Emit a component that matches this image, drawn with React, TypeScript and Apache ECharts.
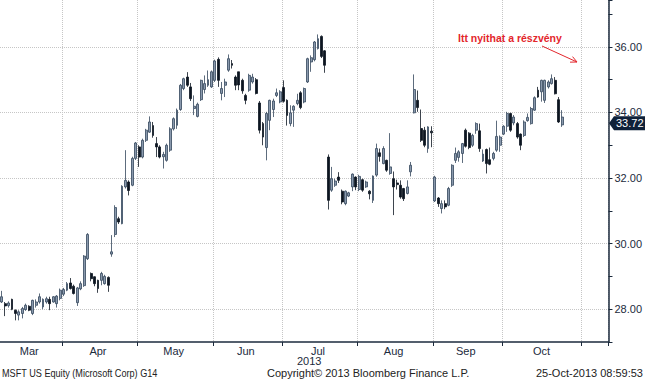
import React, { useEffect, useRef } from "react";
import * as echarts from "echarts";

// Trading days shown on the category axis (MM-DD, 2013)
const DATES: string[] = [
  "03-05","03-06","03-07","03-08","03-11","03-12","03-13","03-14","03-15","03-18","03-19","03-20","03-21","03-22","03-25","03-26","03-27","03-28",
  "04-01","04-02","04-03","04-04","04-05","04-08","04-09","04-10","04-11","04-12","04-15","04-16","04-17","04-18","04-19","04-22","04-23","04-24","04-25","04-26","04-29","04-30",
  "05-01","05-02","05-03","05-06","05-07","05-08","05-09","05-10","05-13","05-14","05-15","05-16","05-17","05-20","05-21","05-22","05-23","05-24","05-28","05-29","05-30","05-31",
  "06-03","06-04","06-05","06-06","06-07","06-10","06-11","06-12","06-13","06-14","06-17","06-18","06-19","06-20","06-21","06-24","06-25","06-26","06-27","06-28",
  "07-01","07-02","07-03","07-05","07-08","07-09","07-10","07-11","07-12","07-15","07-16","07-17","07-18","07-19","07-22","07-23","07-24","07-25","07-26","07-29","07-30","07-31",
  "08-01","08-02","08-05","08-06","08-07","08-08","08-09","08-12","08-13","08-14","08-15","08-16","08-19","08-20","08-21","08-22","08-23","08-26","08-27","08-28","08-29","08-30",
  "09-03","09-04","09-05","09-06","09-09","09-10","09-11","09-12","09-13","09-16","09-17","09-18","09-19","09-20","09-23","09-24","09-25","09-26","09-27","09-30",
  "10-01","10-02","10-03","10-04","10-07","10-08","10-09","10-10","10-11","10-14","10-15","10-16","10-17","10-18","10-21","10-22","10-23","10-24","10-25","10-28","10-29","10-30","10-31",
  "11-01","11-04","11-05","11-06","11-07","11-08","11-11","11-12",
];

// [open, close, low, high]
const MARCH: number[][] = [
  [28.22,28.38,28.19,28.56],[28.17,28.10,27.79,28.22],[28.11,28.19,28.05,28.24],[28.30,28.00,27.97,28.32],
  [27.97,27.87,27.66,27.99],[27.82,27.92,27.66,27.97],[27.87,28.02,27.72,28.07],[27.99,28.12,27.95,28.17],
  [28.09,27.97,27.94,28.12],[27.87,28.27,27.82,28.29],[28.12,28.22,28.05,28.30],[28.22,28.38,28.17,28.48],
  [28.07,28.30,28.00,28.33],[28.22,28.32,28.17,28.38],[28.30,28.17,27.97,28.38],[28.22,28.38,28.20,28.40],
  [28.17,28.40,28.05,28.43],[28.33,28.58,28.27,28.63],
];
const APRIL: number[][] = [
  [28.46,28.60,28.40,28.65],[28.58,28.78,28.55,28.83],[28.80,28.63,28.60,28.95],[28.70,28.48,28.45,28.75],
  [28.20,28.65,28.10,28.68],[28.62,28.78,28.58,28.85],[28.72,29.62,28.68,29.65],[29.54,30.28,29.50,30.32],
  [29.09,28.93,28.85,29.12],[28.99,28.78,28.70,29.00],[28.88,28.63,28.50,28.90],[28.88,29.09,28.73,29.14],
  [28.78,29.00,28.75,29.05],[28.97,28.73,28.53,29.00],[29.68,29.75,29.60,30.26],[30.28,31.10,30.20,31.17],
  [30.76,30.66,30.60,30.82],[30.61,31.75,30.59,31.78],[31.73,31.93,31.68,32.85],[31.88,31.62,31.47,31.93],
  [31.78,32.60,31.75,32.65],[32.60,33.07,32.55,33.10],
];
const MAY: number[][] = [
  [32.95,32.64,32.34,33.00],[32.64,33.15,32.60,33.20],[33.15,33.46,33.10,33.50],[33.40,33.71,33.38,33.88],
  [33.60,33.30,33.23,33.71],[33.05,32.95,32.64,33.25],[32.95,32.64,32.60,33.00],[32.65,32.72,32.29,32.80],
  [32.54,33.00,32.50,33.05],[32.85,33.50,32.80,33.55],[33.50,33.81,33.45,33.85],[33.61,34.07,33.50,34.12],
  [34.09,34.83,34.05,34.87],[34.73,35.03,34.68,35.06],[35.08,34.83,34.78,35.23],[34.78,34.42,34.35,34.90],
  [34.12,34.19,33.92,34.52],[33.88,34.25,33.85,34.30],[34.39,34.98,34.35,35.00],[34.70,34.88,34.58,35.13],
  [34.83,35.00,34.78,35.28],[34.78,35.24,34.75,35.28],
];
const JUNE: number[][] = [
  [34.98,35.57,34.93,35.61],[35.62,34.98,34.78,35.68],[34.58,34.73,34.37,34.93],[34.83,34.93,34.47,35.03],
  [35.29,35.64,35.24,35.77],[35.49,35.44,35.34,35.60],[35.08,34.83,34.68,35.13],[35.24,34.84,34.68,35.24],
  [34.98,34.66,34.57,35.03],[34.52,34.37,34.25,34.57],[34.68,35.13,34.63,35.18],[34.93,35.08,34.88,35.18],
  [35.00,34.58,34.55,35.05],[34.29,33.46,33.36,34.35],[33.66,33.25,33.00,33.71],[32.93,33.97,32.54,34.02],
  [33.76,34.37,33.46,34.39],[34.09,34.35,33.86,34.42],[34.52,34.60,34.47,34.73],[34.32,34.63,34.28,34.68],
];
const JULY: number[][] = [
  [34.76,34.34,34.30,34.98],[34.37,33.91,33.60,34.40],[33.66,33.99,33.58,34.22],[34.07,34.19,33.56,34.22],
  [34.27,34.37,34.22,34.57],[34.60,34.15,34.10,34.65],[34.32,34.73,34.28,34.76],[34.93,35.64,34.90,35.67],
  [35.54,35.67,35.24,35.74],[35.61,36.15,35.56,36.18],[35.95,36.25,35.92,36.38],[36.32,35.71,35.66,36.35],
  [35.88,35.44,35.21,35.90],[32.64,31.32,31.04,32.72],[31.63,31.98,31.58,32.34],[31.78,31.91,31.73,31.98],
  [32.03,31.93,31.85,32.18],[31.60,31.27,31.20,31.65],[31.22,31.60,31.17,31.62],[31.45,31.55,31.42,31.58],
  [31.73,32.12,31.60,32.14],[32.03,31.73,31.63,32.05],
];
const AUGUST: number[][] = [
  [31.65,32.05,31.60,32.10],[31.95,31.63,31.58,31.98],[31.73,31.88,31.70,31.92],[31.60,31.52,31.35,31.63],
  [31.32,32.06,31.24,32.08],[32.09,32.90,32.04,33.05],[32.77,32.66,32.50,32.90],[32.44,32.90,32.42,32.97],
  [32.54,32.24,32.19,32.56],[32.14,32.34,32.10,33.37],[31.98,31.73,30.87,32.20],[31.85,31.80,31.65,31.95],
  [31.78,31.42,31.37,31.93],[31.68,31.37,31.30,31.70],[31.53,31.73,31.50,31.93],[32.19,32.39,32.05,32.49],
  [33.99,34.70,33.97,35.16],[34.37,34.15,34.02,34.67],[33.51,33.15,33.10,34.09],[33.46,33.00,32.94,33.56],
  [32.90,33.56,32.77,33.58],[33.43,33.38,32.94,33.58],
];
const SEPTEMBER: number[][] = [
  [31.30,32.03,31.27,32.07],[31.39,31.22,31.12,31.42],[31.07,31.22,30.92,31.32],[31.22,31.12,31.05,31.32],
  [31.17,31.68,31.14,31.73],[31.78,32.39,31.73,32.42],[32.54,32.75,32.46,32.93],[32.63,32.80,32.50,32.85],
  [32.75,33.05,32.46,33.07],[33.46,32.97,32.93,33.51],[33.37,32.93,32.88,33.40],[33.00,33.30,32.95,33.35],
  [33.46,33.66,33.35,33.70],[33.44,32.90,32.80,33.66],[32.52,32.73,32.49,32.87],[32.87,32.44,32.14,32.90],
  [32.56,32.42,32.39,32.93],[32.60,32.75,32.54,32.80],[32.85,33.27,32.80,33.75],[33.00,33.25,32.80,33.30],
];
const OCTOBER: number[][] = [
  [33.34,33.58,33.31,33.61],[33.58,33.97,33.41,34.02],[33.97,33.46,33.41,33.99],[33.68,33.86,33.61,33.92],
  [33.66,33.25,33.20,33.71],[33.34,33.00,32.85,33.36],[33.30,33.71,33.25,33.76],[33.75,33.85,33.72,33.97],
  [33.66,34.12,33.63,34.17],[34.07,34.45,34.05,34.49],[34.68,34.47,34.45,34.78],[34.63,34.98,34.33,35.00],
  [34.37,34.98,34.29,35.00],[34.78,34.93,34.73,34.98],[34.88,35.03,34.85,35.16],[34.98,34.57,34.55,35.08],
  [34.39,33.71,33.68,34.47],[33.62,33.86,33.56,34.07],
];

const MONTHS = [
  { key: "03", label: "Mar" }, { key: "04", label: "Apr" }, { key: "05", label: "May" },
  { key: "06", label: "Jun" }, { key: "07", label: "Jul" }, { key: "08", label: "Aug" },
  { key: "09", label: "Sep" }, { key: "10", label: "Oct" },
];
const Y_MIN = 27;
const Y_MAX = 37.43;
const LAST_PRICE = 33.72;
const ANNOTATION = "Itt nyithat a részvény";
const FOOTER_LEFT = "MSFT US Equity (Microsoft Corp) G14";
const FOOTER_MID = "Copyright© 2013 Bloomberg Finance L.P.";
const FOOTER_RIGHT = "25-Oct-2013 08:59:53";
const YEAR = "2013";

const NAVY = "#1b2a3c";
const GRID = "#c6c6c6";
const UP_FILL = "#8a99ad";
const UP_BORDER = "#34465c";
const DOWN = "#0c1521";
const RED = "#e3262c";
const FONT = "'Liberation Sans', Arial, sans-serif";

export default function App() {
  const ref = useRef<HTMLDivElement>(null);
  useEffect(() => {
    document.body.style.margin = "0";
    const chart = echarts.init(ref.current!, null, { renderer: "svg" });
    const candles = [...MARCH, ...APRIL, ...MAY, ...JUNE, ...JULY, ...AUGUST, ...SEPTEMBER, ...OCTOBER];
    const monthOf = (d: string) => d.slice(0, 2);
    const monthStarts = new Set<number>();
    DATES.forEach((d, i) => {
      if (i > 0 && monthOf(d) !== monthOf(DATES[i - 1])) monthStarts.add(i);
    });
    const labelAt = new Map<number, string>();
    MONTHS.forEach((m) => {
      const idx = DATES.map((d, i) => (monthOf(d) === m.key ? i : -1)).filter((i) => i >= 0);
      labelAt.set(Math.floor((idx[0] + idx[idx.length - 1]) / 2), m.label);
    });

    chart.setOption({
      animation: false,
      grid: { left: -1.2, right: 33, top: 0, bottom: 38, containLabel: false },
      xAxis: {
        type: "category",
        data: DATES,
        boundaryGap: true,
        axisLine: { show: true, lineStyle: { color: NAVY, width: 1.5 } },
        axisTick: {
          show: true,
          interval: (i: number) => monthStarts.has(i),
          length: 4,
          lineStyle: { color: NAVY, width: 1 },
        },
        axisLabel: {
          interval: (i: number) => labelAt.has(i),
          formatter: (_v: string, i: number) => labelAt.get(i) ?? "",
          color: NAVY,
          fontSize: 11,
          fontFamily: FONT,
          margin: 3,
        },
        splitLine: {
          show: true,
          interval: (i: number) => monthStarts.has(i),
          lineStyle: { color: GRID, type: "dotted", width: 1 },
        },
      },
      yAxis: {
        type: "value",
        position: "right",
        min: Y_MIN,
        max: Y_MAX,
        interval: 1,
        axisLine: { show: true, lineStyle: { color: NAVY, width: 1.5 } },
        axisTick: { show: true, length: 4, lineStyle: { color: NAVY } },
        axisLabel: {
          formatter: (v: number) => (Math.abs(v % 2) < 1e-9 ? v.toFixed(2) : ""),
          color: NAVY,
          fontSize: 11,
          fontFamily: FONT,
          margin: 6,
        },
        splitLine: {
          show: true,
          showMinLine: false,
          showMaxLine: false,
          lineStyle: { color: [GRID, "rgba(0,0,0,0)"], type: "dotted", width: 1 },
        },
      },
      series: [
        {
          type: "candlestick",
          data: candles,
          barWidth: 2.4,
          itemStyle: {
            color: UP_FILL,
            color0: DOWN,
            borderColor: UP_BORDER,
            borderColor0: DOWN,
            borderWidth: 0.8,
          },
        },
      ],
    });

    const y = chart.convertToPixel({ yAxisIndex: 0 }, LAST_PRICE) as number;
    const xr = chart.convertToPixel({ xAxisIndex: 0 }, DATES[DATES.length - 1]) as number;
    const axisX = Math.round(xr + 2);
    const top = y - 5.5, bot = y + 8.5, mid = (top + bot) / 2;
    // arrow geometry for annotation
    const ax0 = 542, ay0 = 46, ax1 = 577, ay1 = 62;
    const ang = Math.atan2(ay1 - ay0, ax1 - ax0);
    const hl = 7, ha = 0.45;
    const head = [
      [ax1 - hl * Math.cos(ang - ha), ay1 - hl * Math.sin(ang - ha)],
      [ax1, ay1],
      [ax1 - hl * Math.cos(ang + ha), ay1 - hl * Math.sin(ang + ha)],
    ];
    chart.setOption({
      graphic: {
        elements: [
          {
            type: "polygon",
            shape: { points: [[axisX, mid], [axisX + 5, top], [645, top], [645, bot], [axisX + 5, bot]] },
            style: { fill: "#0f2139" },
            z: 10,
          },
          {
            type: "text",
            x: axisX + 7,
            y: mid,
            style: { text: LAST_PRICE.toFixed(2), fill: "#ffffff", fontSize: 11, fontFamily: FONT, verticalAlign: "middle" },
            z: 11,
          },
          {
            type: "text",
            x: 458,
            y: 38,
            style: { text: ANNOTATION, fill: RED, fontSize: 10.5, fontWeight: "bold", fontFamily: FONT, verticalAlign: "middle" },
          },
          { type: "line", shape: { x1: ax0, y1: ay0, x2: ax1, y2: ay1 }, style: { stroke: RED, lineWidth: 1 } },
          { type: "polyline", shape: { points: head }, style: { stroke: RED, lineWidth: 1, fill: null } },
          {
            type: "text",
            x: 297,
            y: 361,
            style: { text: YEAR, fill: NAVY, fontSize: 11, fontFamily: FONT, verticalAlign: "middle" },
          },
          {
            type: "text",
            x: 2,
            y: 373,
            scaleX: 0.83,
            style: { text: FOOTER_LEFT, fill: "#222222", fontSize: 11, fontFamily: FONT, verticalAlign: "middle" },
          },
          {
            type: "text",
            x: 267,
            y: 373,
            style: { text: FOOTER_MID, fill: "#222222", fontSize: 11, fontFamily: FONT, verticalAlign: "middle" },
          },
          {
            type: "text",
            x: 643,
            y: 373,
            style: { text: FOOTER_RIGHT, fill: "#222222", fontSize: 11, fontFamily: FONT, verticalAlign: "middle", align: "right" },
          },
        ],
      },
    });
    return () => chart.dispose();
  }, []);
  return <div ref={ref} style={{ width: 645, height: 380 }} />;
}
